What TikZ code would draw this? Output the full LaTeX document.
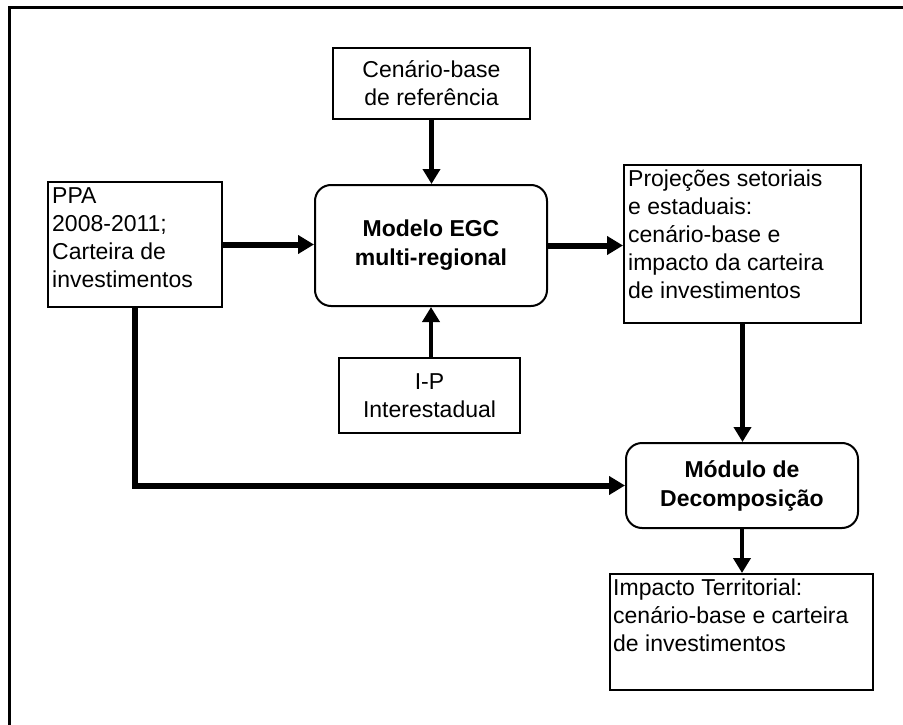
\documentclass[tikz,border=0pt]{standalone}
\usepackage{fontspec}
\setmainfont{Liberation Sans}
\usetikzlibrary{arrows.meta}
\begin{document}
\begin{tikzpicture}[x=1pt,y=-1pt,
  box/.style={draw,line width=2pt,inner sep=0pt,align=center,font=\fontsize{23}{28}\selectfont},
  rbox/.style={box,rounded corners=16pt,font=\fontsize{23}{29}\selectfont\bfseries},
  txt/.style={inner sep=0pt,anchor=north west,align=left,font=\fontsize{23}{28}\selectfont},
  bigarrow/.style={line width=6pt,-{Triangle[length=16pt,width=18pt]}},
  smallarrow/.style={line width=4.5pt,-{Triangle[length=15pt,width=17pt]}},
]
\useasboundingbox (0,0) rectangle (903,725);
\fill[white] (0,0) rectangle (903,725);
\draw[line width=3pt] (9,725) -- (9,8) -- (903,8);

\node[box,minimum width=197pt,minimum height=71pt] (cen) at (431.5,83.5) {Cenário-base\\de referência};
\node[rbox,minimum width=232pt,minimum height=121pt] (mod) at (431,245.5) {Modelo EGC\\multi-regional};
\node[box,minimum width=174pt,minimum height=125pt] (ppa) at (135,244.5) {};
\node[txt] (ppat) at (52,185) {\rule{0pt}{18pt}PPA\\2008-2011;\\Carteira de\\investimentos};
\node[box,minimum width=237pt,minimum height=158pt] (proj) at (742.5,244) {};
\node[txt] (projt) at (628,168) {\rule{0pt}{18pt}Projeções setoriais\\e estaduais:\\cenário-base e\\impacto da carteira\\de investimentos};
\node[box,minimum width=181pt,minimum height=75pt] (ip) at (429.5,395.5) {I-P\\Interestadual};
\node[rbox,minimum width=232pt,minimum height=85pt] (modu) at (742,485.5) {Módulo de\\Decomposição};
\node[box,minimum width=263pt,minimum height=116pt] (imp) at (741.5,632) {};
\node[txt] (impt) at (613,577) {\rule{0pt}{18pt}Impacto Territorial:\\cenário-base e carteira\\de investimentos};

\draw[smallarrow] (cen.south) -- (cen.south |- mod.north);
\draw[bigarrow] (ppa.east) -- (ppa.east -| mod.west);
\draw[bigarrow] (mod.east) -- (mod.east -| proj.west);
\draw[smallarrow] (mod.south |- ip.north) -- (mod.south);
\draw[smallarrow] (proj.south) -- (proj.south |- modu.north);
\draw[bigarrow] (ppa.south) |- (modu.west);
\draw[smallarrow] (modu.south) -- (modu.south |- imp.north);
\end{tikzpicture}
\end{document}
